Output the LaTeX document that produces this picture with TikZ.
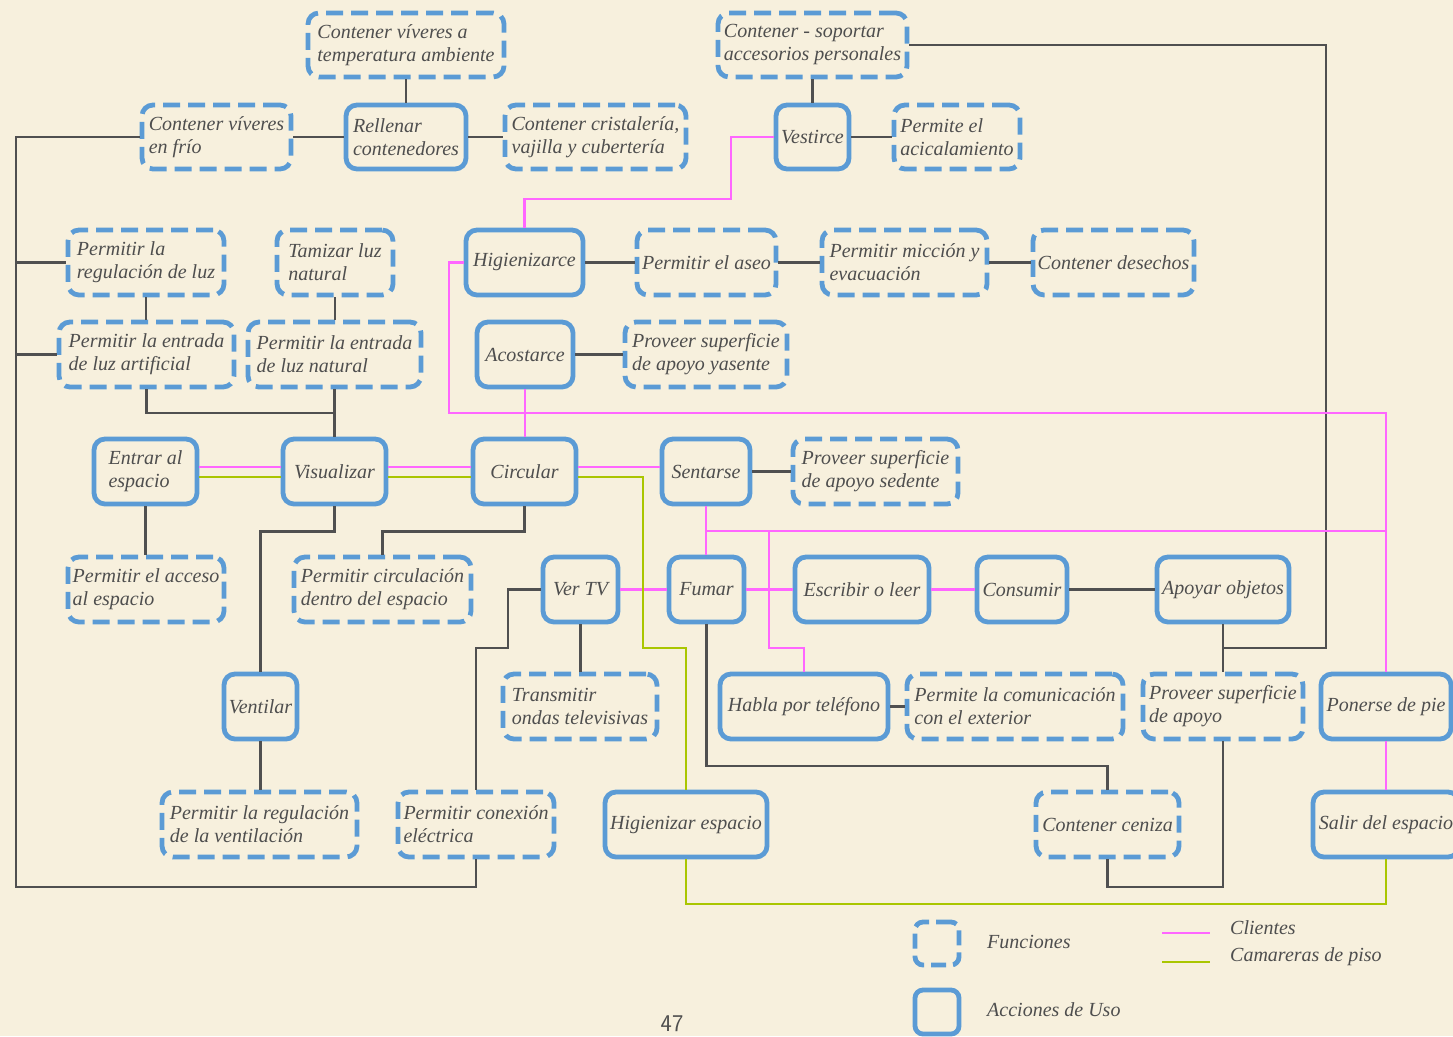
\documentclass[tikz,border=0pt]{standalone}
\usepackage{fontspec}
\setmainfont{Liberation Serif}
\definecolor{boxblue}{RGB}{91,155,213}
\definecolor{txtgray}{RGB}{78,78,78}
\definecolor{linegray}{RGB}{80,80,80}
\definecolor{clipink}{RGB}{255,102,255}
\definecolor{camgreen}{RGB}{170,198,0}
\definecolor{paper}{RGB}{247,240,221}
\begin{document}
\begin{tikzpicture}[x=1pt,y=-1pt,
  fbase/.style={draw=boxblue, line width=4.8pt, rounded corners=11pt, inner sep=0pt, align=left, text=txtgray, font=\fontsize{20}{23}\selectfont\itshape},
  func/.style={fbase, dash pattern=on 17pt off 8pt},
  act/.style={fbase},
  conn/.style={draw=linegray, line width=2.2pt},
  cli/.style={draw=clipink, line width=2.2pt},
  cam/.style={draw=camgreen, line width=2.2pt},
  lbl/.style={text=txtgray, font=\fontsize{20}{23}\selectfont\itshape, inner sep=0pt, anchor=west}]
\clip (0,0) rectangle (1453,1036);
\fill[paper] (0,0) rectangle (1453,1036);
% Row 1
\node[func, minimum width=196pt, minimum height=64pt] (a1) at (406,45) {Contener víveres a\\temperatura ambiente};
\node[func, minimum width=189pt, minimum height=64pt] (a2) at (812.5,45) {Contener - soportar\\accesorios personales};
% Row 2
\node[func, minimum width=149pt, minimum height=64pt] (frio) at (216.5,137) {Contener víveres\\en frío};
\node[act, minimum width=120pt, minimum height=64pt] (rell) at (406,137) {Rellenar\\contenedores};
\node[func, minimum width=181pt, minimum height=64pt] (crist) at (595.5,137) {Contener cristalería,\\vajilla y cubertería};
\node[act, minimum width=73pt, minimum height=64pt] (vest) at (812.5,137) {Vestirce};
\node[func, minimum width=126pt, minimum height=64pt] (acic) at (957,137) {Permite el\\acicalamiento};
% Row 3
\node[func, minimum width=156pt, minimum height=65pt] (regluz) at (146,262.5) {Permitir la\\regulación de luz};
\node[func, minimum width=116pt, minimum height=65pt] (tamiz) at (335,262.5) {Tamizar luz\\natural};
\node[act, minimum width=117pt, minimum height=65pt] (hig) at (524.5,262.5) {Higienizarce};
\node[func, minimum width=139pt, minimum height=65pt] (aseo) at (706.5,262.5) {Permitir el aseo};
\node[func, minimum width=165pt, minimum height=65pt] (micc) at (904.5,262.5) {Permitir micción y\\evacuación};
\node[func, minimum width=161pt, minimum height=65pt] (desech) at (1113.5,262.5) {Contener desechos};
% Row 4
\node[func, minimum width=175pt, minimum height=65pt] (luzart) at (146.5,354.5) {Permitir la entrada\\de luz artificial};
\node[func, minimum width=173pt, minimum height=65pt] (luznat) at (334.5,354.5) {Permitir la entrada\\de luz natural};
\node[act, minimum width=96pt, minimum height=65pt] (acost) at (525,354.5) {Acostarce};
\node[func, minimum width=162pt, minimum height=65pt] (yas) at (706,354.5) {Proveer superficie\\de apoyo yasente};
% Row 5
\node[act, minimum width=103pt, minimum height=65pt] (entrar) at (145.5,471.5) {Entrar al\\espacio};
\node[act, minimum width=103pt, minimum height=65pt] (vis) at (334.5,471.5) {Visualizar};
\node[act, minimum width=103pt, minimum height=65pt] (circ) at (524.5,471.5) {Circular};
\node[act, minimum width=88pt, minimum height=65pt] (sent) at (706,471.5) {Sentarse};
\node[func, minimum width=165pt, minimum height=65pt] (sed) at (875.5,471.5) {Proveer superficie\\de apoyo sedente};
% Row 6
\node[func, minimum width=156pt, minimum height=65pt] (acceso) at (146,589.5) {Permitir el acceso\\al espacio};
\node[func, minimum width=177pt, minimum height=65pt] (circu) at (382.5,589.5) {Permitir circulación\\dentro del espacio};
\node[act, minimum width=75pt, minimum height=65pt] (vertv) at (580.5,589.5) {Ver TV};
\node[act, minimum width=75pt, minimum height=65pt] (fumar) at (706.5,589.5) {Fumar};
\node[act, minimum width=134pt, minimum height=65pt] (escr) at (862,589.5) {Escribir o leer};
\node[act, minimum width=90pt, minimum height=65pt] (cons) at (1022,589.5) {Consumir};
\node[act, minimum width=132pt, minimum height=65pt] (apoyar) at (1223,589.5) {Apoyar objetos};
% Row 7
\node[act, minimum width=73pt, minimum height=65pt] (vent) at (260.5,706.5) {Ventilar};
\node[func, minimum width=154pt, minimum height=65pt] (transm) at (580,706.5) {Transmitir\\ondas televisivas};
\node[act, minimum width=168pt, minimum height=65pt] (habla) at (804,706.5) {Habla por teléfono};
\node[func, minimum width=216pt, minimum height=65pt] (comun) at (1015,706.5) {Permite la comunicación\\con el exterior};
\node[func, minimum width=160pt, minimum height=65pt] (apoyo) at (1223,706.5) {Proveer superficie\\de apoyo};
\node[act, minimum width=130pt, minimum height=65pt] (ponerse) at (1386,706.5) {Ponerse de pie};
% Row 8
\node[func, minimum width=195pt, minimum height=65pt] (regvent) at (259.5,824.5) {Permitir la regulación\\de la ventilación};
\node[func, minimum width=156pt, minimum height=65pt] (conex) at (476,824.5) {Permitir conexión\\eléctrica};
\node[act, minimum width=162pt, minimum height=65pt] (higesp) at (686,824.5) {Higienizar espacio};
\node[func, minimum width=143pt, minimum height=65pt] (ceniza) at (1107.5,824.5) {Contener ceniza};
\node[act, minimum width=146pt, minimum height=65pt] (salir) at (1386,824.5) {Salir del espacio};
% Dark connectors
\draw[conn] (a1.south) -- (rell.north);
\draw[conn] (frio.east) -- (rell.west);
\draw[conn] (rell.east) -- (crist.west);
\draw[conn] (a2.south) -- (vest.north);
\draw[conn] (vest.east) -- (acic.west);
\draw[conn] (a2.east) -- (1326,45) -- (1326,648) -| (apoyo.north);
\draw[conn] (apoyar.south) -- (apoyo.north);
\draw[conn] (frio.west) -- (16,137) -- (16,887) -| (conex.south);
\draw[conn] (regluz.west) -- (16,262.5);
\draw[conn] (luzart.west) -- (16,354.5);
\draw[conn] (regluz.south) -- (regluz.south |- luzart.north);
\draw[conn] (tamiz.south) -- (tamiz.south |- luznat.north);
\draw[conn] (luzart.south) |- (334.5,413);
\draw[conn] (luznat.south) -- (vis.north);
\draw[conn] (entrar.south) -- (entrar.south |- acceso.north);
\draw[conn] (vis.south) -- ++(0,25) -| (vent.north);
\draw[conn] (vent.south) -- (vent.south |- regvent.north);
\draw[conn] (circ.south) -- ++(0,25) -| (circu.north);
\draw[conn] (vertv.west) -- (508,589.5) -- (508,648) -| (conex.north);
\draw[conn] (vertv.south) -- (vertv.south |- transm.north);
\draw[conn] (fumar.south) -- (706.5,766) -| (ceniza.north);
\draw[conn] (ceniza.south) -- (1107.5,887) -| (apoyo.south);
\draw[conn] (cons.east) -- (apoyar.west);
\draw[conn] (habla.east) -- (comun.west);
\draw[conn] (acost.east) -- (yas.west);
\draw[conn] (sent.east) -- (sed.west);
\draw[conn] (hig.east) -- (aseo.west);
\draw[conn] (aseo.east) -- (micc.west);
\draw[conn] (micc.east) -- (desech.west);
% Clientes (pink)
\draw[cli] (vest.west) -- (731,137) |- (524.5,199) -- (hig.north);
\draw[cli] (hig.west) -- (449,262.5) |- (1386,413) -- (ponerse.north);
\draw[cli] (acost.south) -- (acost.south |- circ.north);
\draw[cli] ([yshift=4.5pt]entrar.east) -- ([yshift=4.5pt]vis.west);
\draw[cli] ([yshift=4.5pt]vis.east) -- ([yshift=4.5pt]circ.west);
\draw[cli] ([yshift=4.5pt]circ.east) -- ([yshift=4.5pt]sent.west);
\draw[cli] (sent.south) -- (sent.south |- fumar.north);
\draw[cli] (706,531) -- (1386,531);
\draw[cli] (769,531) |- (804,648) -- (habla.north);
\draw[cli] (vertv.east) -- (fumar.west);
\draw[cli] (fumar.east) -- (escr.west);
\draw[cli] (escr.east) -- (cons.west);
\draw[cli] (ponerse.south) -- (salir.north);
% Camareras (green)
\draw[cam] ([yshift=-5.5pt]entrar.east) -- ([yshift=-5.5pt]vis.west);
\draw[cam] ([yshift=-5.5pt]vis.east) -- ([yshift=-5.5pt]circ.west);
\draw[cam] ([yshift=-5.5pt]circ.east) -| (643,648) -| (higesp.north);
\draw[cam] (higesp.south) |- (1386,904) -- (salir.south);
% Legend
\node[func, minimum width=44pt, minimum height=43pt, rounded corners=8pt, dash pattern=on 15pt off 7pt] (legf) at (937,943.5) {};
\node[act, minimum width=44pt, minimum height=44pt, rounded corners=8pt] (lega) at (937,1012) {};
\node[lbl] (legft) at (987,942) {Funciones};
\node[lbl] (legat) at (987,1010) {Acciones de Uso};
\coordinate (lp1) at (1162,933); \coordinate (lp2) at (1210,933);
\coordinate (lg1) at (1162,962); \coordinate (lg2) at (1210,962);
\draw[cli] (lp1) -- (lp2);
\draw[cam] (lg1) -- (lg2);
\node[lbl] (legct) at (1230,928) {Clientes};
\node[lbl] (leggt) at (1230,957) {Camareras de piso};
\node[text=txtgray, font=\sffamily\fontsize{24}{24}\selectfont, anchor=base, inner sep=0pt] (pg) at (672,1031) {47};
\end{tikzpicture}
\end{document}
